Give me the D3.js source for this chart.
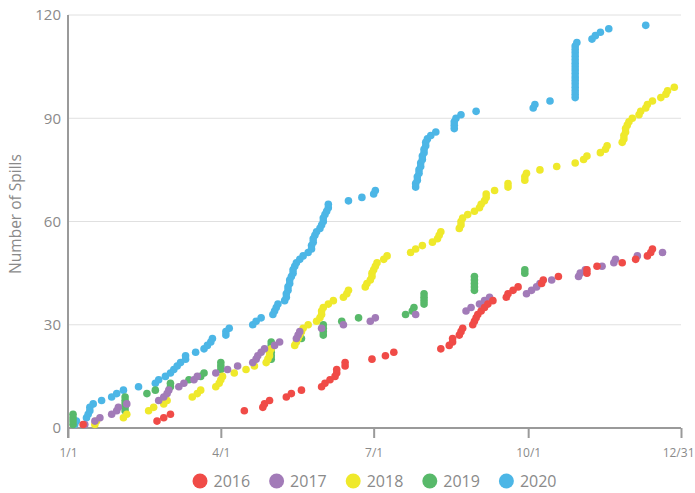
<!DOCTYPE html>
<html>
<head>
<meta charset="utf-8">
<script src="https://cdn.jsdelivr.net/npm/d3@7"></script>
<style>
  body { margin: 0; background: #fff; }
  svg { display: block; font-family: "Open Sans", sans-serif; }
</style>
</head>
<body>
<div id="chart"></div>
<script>
// one entry per spill: day of year it happened, in order (count = index + 1)
let years = ["2016", "2017", "2018", "2019", "2020"];
let colors = ["#f04b47", "#a27bb8", "#efe92b", "#58b96a", "#4cb6e6"];

let days2016 = [9,53,57,61,105,116,117,120,130,133,139,151,153,156,159,160,160,165,165,181,
  189,194,222,227,229,229,233,234,235,241,242,243,244,246,248,250,253,261,262,265,
  268,282,283,292,309,309,315,330,338,345,347,348];

let days2017 = [10,16,19,26,29,30,35,54,57,59,60,66,69,75,77,88,95,101,110,112,
  113,115,117,123,126,136,137,138,151,164,180,183,207,237,240,245,248,251,273,276,
  279,281,288,304,305,308,318,325,326,339,354];

let days2018 = [16,17,33,35,48,51,57,59,74,77,79,88,90,91,92,99,106,111,118,119,
  120,120,121,135,136,137,138,139,140,143,148,150,151,151,152,155,158,164,166,167,
  177,178,180,181,181,182,183,184,188,190,204,207,211,217,220,221,222,233,234,234,
  235,238,242,245,246,248,249,249,254,262,262,272,272,273,281,291,302,307,309,317,
  320,321,330,331,331,332,332,333,334,336,340,341,344,345,348,353,356,357,361];

let days2019 = [3,3,3,3,34,34,34,34,34,47,52,61,61,72,79,81,91,91,91,121,
  121,121,121,121,121,139,152,152,152,152,163,173,201,205,206,212,212,212,212,242,
  242,242,242,242,272,272];

let days2020 = [4,5,11,12,13,13,15,20,26,29,33,42,52,54,58,61,63,65,67,70,
  70,76,81,83,85,86,94,94,96,110,112,115,122,123,124,125,129,130,130,131,
  131,132,132,133,134,134,135,136,138,140,143,145,145,146,146,147,148,150,151,152,
  152,153,154,155,155,167,175,182,183,207,207,208,208,209,209,210,210,211,211,212,
  212,213,213,214,216,219,230,230,230,231,234,243,277,278,287,302,302,302,302,302,
  302,302,302,302,302,302,302,302,302,302,302,303,312,314,317,322,344];

let xTicks = ["2020-01-01", "2020-04-01", "2020-07-01", "2020-10-01", "2020-12-31"];
let yTicks = [0, 30, 60, 90, 120];

let allDays = [days2016, days2017, days2018, days2019, days2020];

let width = 695, height = 493;
let margin = {left: 68, right: 14, top: 15, bottom: 65};

let jan1 = new Date(2020, 0, 1);
let parse = d3.timeParse("%Y-%m-%d");

let x = d3.scaleTime()
  .domain([jan1, new Date(2020, 11, 31)])
  .range([margin.left, width - margin.right]);

let y = d3.scaleLinear()
  .domain([0, 120])
  .range([height - margin.bottom, margin.top]);

let svg = d3.select("#chart")
  .append("svg")
  .attr("width", width)
  .attr("height", height);

// gridlines
svg.append("g")
  .selectAll("line")
  .data(yTicks.slice(1))
  .enter()
    .append("line")
    .attr("x1", x.range()[0])
    .attr("x2", x.range()[1])
    .attr("y1", d => y(d))
    .attr("y2", d => y(d))
    .attr("stroke", "#e0e0e0")
    .attr("stroke-width", 1);

// y axis
let yAxis = svg.append("g")
  .attr("transform", `translate(${margin.left},0)`)
  .call(d3.axisLeft(y).tickValues(yTicks).tickSize(0).tickPadding(7));
yAxis.select(".domain")
  .attr("stroke", "#9a9a9a")
  .attr("stroke-width", 2)
  .attr("d", `M0,${y(120)}V${y(0) + 10}`);
yAxis.selectAll("text")
  .attr("fill", "#8a8a8a")
  .attr("font-size", "15px")
  .attr("font-family", "Open Sans, sans-serif");

// x axis
let xAxis = svg.append("g")
  .attr("transform", `translate(0,${y(0)})`)
  .call(d3.axisBottom(x)
    .tickValues(xTicks.map(parse))
    .tickFormat(d3.timeFormat("%-m/%-d"))
    .tickSize(10)
    .tickPadding(10));
xAxis.select(".domain")
  .attr("stroke", "#9a9a9a")
  .attr("stroke-width", 2)
  .attr("d", `M${x.range()[0]},0H${x.range()[1]}`);
xAxis.selectAll(".tick line")
  .attr("stroke", "#9a9a9a")
  .attr("stroke-width", 2);
xAxis.selectAll("text")
  .attr("fill", "#8a8a8a")
  .attr("font-size", "12px")
  .attr("font-family", "Open Sans, sans-serif");
// last label sits against the right edge
xAxis.selectAll(".tick:last-of-type text")
  .attr("text-anchor", "end")
  .attr("x", 13);

// y title
svg.append("text")
  .attr("transform", `translate(21,214) rotate(-90)`)
  .attr("text-anchor", "middle")
  .attr("fill", "#8a8a8a")
  .attr("font-size", "15.5px")
  .text("Number of Spills");

// points, 2020 drawn first so 2016 ends on top
let pointsGroup = svg.append("g");
for (let i = years.length - 1; i >= 0; i--) {
  let pts = allDays[i].map((d, j) => ({date: d3.timeDay.offset(jan1, d), count: j + 1}));
  pointsGroup.append("g")
    .selectAll("circle")
    .data(pts)
    .enter()
      .append("circle")
      .attr("cx", d => x(d.date))
      .attr("cy", d => y(d.count))
      .attr("r", 3.8)
      .attr("fill", colors[i]);
}

// legend
let legend = svg.append("g");
let cursor = 0;
years.forEach((yr, i) => {
  let g = legend.append("g");
  g.append("circle")
    .attr("cx", 7.5)
    .attr("cy", 0)
    .attr("r", 7.5)
    .attr("fill", colors[i]);
  let txt = g.append("text")
    .attr("x", 21)
    .attr("y", 0)
    .attr("dy", "0.35em")
    .attr("fill", "#8a8a8a")
    .attr("font-size", "16px")
    .text(yr);
  let w = 21 + txt.node().getComputedTextLength();
  g.attr("transform", `translate(${cursor},0)`);
  cursor += w + 19;
});
let legendWidth = cursor - 19;
legend.attr("transform", `translate(${(x.range()[0] + x.range()[1]) / 2 - legendWidth / 2},481)`);
</script>
</body>
</html>
